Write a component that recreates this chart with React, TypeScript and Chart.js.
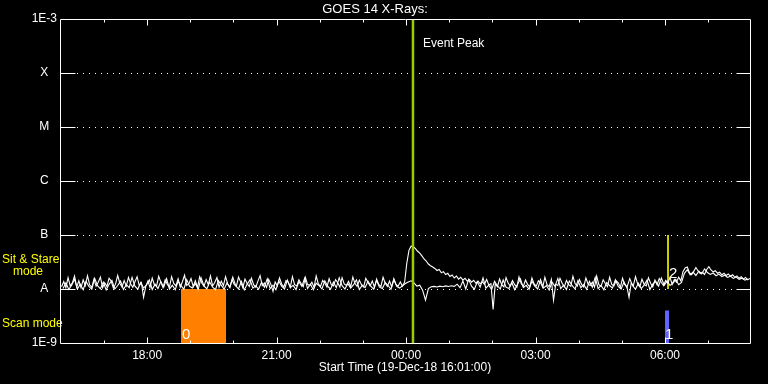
import React, { useEffect, useRef } from "react";
import { Chart, registerables } from "chart.js";

Chart.register(...registerables);

// ---------- text ----------
const TITLE = "GOES 14 X-Rays:";
const X_TITLE = "Start Time (19-Dec-18 16:01:00)";
const EVENT_LABEL = "Event Peak";
const MODE_LABEL_1 = "Sit & Stare";
const MODE_LABEL_2 = "mode";
const MODE_LABEL_3 = "Scan mode";

// ---------- axes (hours since 19-Dec-18 00:00) ----------
const X_MIN_H = 15.98;
const X_MAX_H = 31.97;
const HOUR_LABEL_TICKS = [18, 21, 24, 27, 30];
const Y_TICK_VALUES = [1e-9, 1e-8, 1e-7, 1e-6, 1e-5, 1e-4, 1e-3];
const Y_TICK_LABELS = ["1E-9", "A", "B", "C", "M", "X", "1E-3"];

// ---------- data (flux in units of 1e-9 W/m^2) ----------
const LONG_START_H = 16.0167;
const LONG_STEP_H = 0.05;
const LONG_FLUX_E9 = [
  11.0, 13.8, 10.6, 16.2, 11.4, 13.0, 17.4, 10.8, 14.2, 10.5,
  14.8, 11.6, 17.6, 12.0, 10.7, 15.2, 11.3, 13.4, 16.6, 10.6,
  13.1, 11.1, 15.8, 14.0, 10.4, 12.3, 17.8, 12.8, 10.9, 14.3,
  11.4, 16.4, 12.5, 10.8, 13.6, 16.9, 11.6, 13.1, 7.0, 11.1,
  14.0, 10.7, 15.9, 12.0, 11.2, 17.2, 13.4, 10.6, 14.8, 12.2,
  10.9, 17.0, 12.7, 11.4, 15.5, 10.8, 13.6, 18.0, 11.6, 12.5,
  15.6, 11.1, 14.2, 10.7, 16.8, 12.9, 11.2, 14.9, 12.0, 17.4,
  11.4, 13.2, 16.3, 10.8, 14.0, 11.6, 17.0, 12.4, 10.9, 14.8,
  12.2, 11.2, 16.6, 13.4, 10.6, 15.3, 12.6, 11.1, 15.9, 12.0,
  10.8, 14.0, 17.7, 11.6, 12.9, 10.7, 15.1, 12.2, 9.0, 13.5,
  11.4, 16.1, 12.4, 10.9, 14.3, 13.4, 10.8, 17.0, 12.0, 11.4,
  14.8, 12.6, 11.0, 16.4, 12.2, 11.6, 13.4, 10.7, 17.4, 12.4,
  11.2, 14.4, 12.8, 10.9, 15.5, 12.0, 11.4, 14.9, 13.1, 10.8,
  16.2, 12.4, 11.6, 13.9, 11.0, 16.7, 12.6, 11.2, 14.6, 12.0,
  10.9, 15.8, 13.2, 11.4, 14.1, 10.7, 15.3, 12.2, 11.1, 16.5,
  12.8, 11.2, 14.0, 10.9, 14.8, 12.0, 11.4, 13.5, 11.2, 13.5,
  30.0, 52.0, 62.0, 61.0, 56.0, 50.0, 46.0, 41.0, 36.0, 33.0,
  29.0, 27.0, 25.5, 24.0, 22.0, 23.0, 20.0, 21.0, 18.5, 19.5,
  17.0, 18.2, 16.0, 17.4, 15.2, 16.5, 14.6, 15.8, 14.0, 15.0,
  13.4, 14.5, 12.8, 14.0, 12.5, 13.6, 12.2, 15.0, 11.9, 12.6,
  4.2, 12.6, 11.0, 15.3, 12.0, 10.9, 16.3, 12.8, 11.3, 14.3,
  12.0, 10.8, 16.8, 12.6, 11.2, 14.7, 12.2, 11.0, 16.0, 12.4,
  11.3, 14.2, 13.0, 10.7, 16.5, 12.0, 11.0, 15.1, 6.2, 12.2,
  11.6, 15.8, 12.8, 10.9, 14.4, 12.0, 11.2, 17.2, 12.6, 11.3,
  15.0, 12.2, 10.9, 16.0, 12.4, 11.6, 13.4, 10.8, 17.4, 12.0,
  11.2, 14.8, 12.6, 11.0, 16.5, 12.2, 11.4, 14.2, 13.0, 10.8,
  15.8, 12.0, 11.2, 7.0, 12.8, 11.6, 17.0, 12.4, 11.0, 15.2,
  12.2, 11.4, 16.2, 12.8, 10.9, 14.6, 12.0, 15.6, 13.2, 11.6,
  14.4, 12.8, 16.4, 12.2, 15.0, 13.4, 16.6, 14.2, 21.0, 24.5,
  25.5, 20.0, 18.4, 21.2, 25.0, 21.6, 19.4, 20.4, 18.6, 23.0,
  26.0, 22.5, 20.8, 21.8, 19.6, 20.5, 18.2, 19.6, 17.8, 19.0,
  17.2, 18.3, 16.6, 17.5, 15.8, 16.9, 15.2, 16.4, 14.8, 15.6,
];

const SHORT_START_H = 16.05;
const SHORT_STEP_H = 1 / 15;
const SHORT_FLUX_E9 = [
  10.2, 13.0, 9.8, 11.8, 15.2, 10.0, 12.3, 9.7, 13.8, 11.2,
  9.9, 15.8, 11.5, 10.1, 13.4, 9.6, 12.2, 14.4, 10.0, 11.6,
  14.0, 9.8, 12.0, 10.6, 16.4, 11.3, 9.9, 13.2, 10.4, 11.9,
  14.7, 9.8, 12.3, 10.2, 13.7, 10.8, 15.6, 10.0, 11.7, 9.7,
  13.9, 11.5, 9.9, 14.9, 11.2, 10.4, 12.6, 9.8, 16.0, 11.4,
  10.1, 13.5, 10.8, 9.7, 14.3, 11.8, 9.9, 13.0, 10.6, 16.6,
  11.6, 10.0, 13.8, 9.6, 12.2, 14.8, 10.4, 11.5, 9.9, 13.4,
  10.8, 15.4, 10.2, 11.8, 9.7, 14.1, 11.3, 10.0, 14.6, 10.6,
  11.7, 9.8, 13.6, 11.2, 15.9, 10.2, 12.3, 9.7, 12.8, 11.6,
  10.0, 14.2, 11.3, 9.9, 13.4, 10.6, 16.2, 11.5, 10.0, 12.6,
  10.4, 12.0, 14.8, 9.8, 11.7, 10.6, 13.9, 11.3, 9.9, 14.4,
  10.8, 10.2, 13.2, 11.6, 9.9, 15.6, 11.2, 10.4, 11.5, 12.6,
  13.5, 14.2, 13.0, 11.3, 11.8, 9.5, 6.2, 10.2, 11.0, 11.2,
  10.9, 11.3, 11.0, 11.4, 11.1, 11.5, 11.2, 12.3, 10.6, 14.1,
  10.0, 15.1, 11.3, 9.9, 13.6, 10.8, 16.0, 10.4, 11.8, 9.8,
  13.9, 11.5, 10.0, 14.7, 10.8, 10.2, 13.2, 9.7, 12.3, 15.4,
  10.6, 11.7, 9.9, 14.0, 11.3, 10.0, 15.0, 10.4, 11.6, 9.6,
  13.4, 11.2, 15.7, 10.2, 11.8, 9.8, 14.1, 11.5, 10.0, 14.3,
  10.6, 12.2, 9.9, 13.8, 10.8, 16.5, 10.2, 11.7, 9.7, 13.2,
  11.6, 10.4, 14.8, 11.2, 10.0, 13.4, 10.6, 15.6, 11.5, 9.9,
  12.8, 10.2, 11.8, 14.6, 9.8, 12.3, 13.9, 11.3, 15.9, 11.8,
  14.0, 11.6, 12.8, 15.1, 12.0, 13.2, 19.5, 22.8, 18.2, 20.6,
  17.8, 21.4, 19.0, 23.5, 20.2, 18.6, 19.8, 17.6, 18.9, 17.0,
  18.0, 16.4, 17.3, 15.7, 16.6, 15.1, 15.9, 14.6, 15.3,
];

// ---------- events / modes ----------
const EVENT_PEAK_H = 24.16;
const SCAN0_RANGE_H = [18.784, 19.827];
const SCAN0_LEVEL = 1e-8;
const SCAN0_LABEL = "0";
const SCAN1_RANGE_H = [30.0, 30.094];
const SCAN1_LEVEL = 4e-9;
const SCAN1_LABEL = "1";
const MARK2_H = 30.07;
const MARK2_RANGE = [1e-8, 1e-7];
const MARK2_LABEL = "2";

const FONT = '"Liberation Sans", Arial, sans-serif';

function toPoints(start: number, step: number, vals: number[]) {
  return vals.map((v, i) => ({ x: start + i * step, y: v * 1e-9 }));
}

function hourLabel(h: number) {
  const hh = ((h % 24) + 24) % 24;
  return (hh < 10 ? "0" : "") + hh + ":00";
}

const decorPlugin = {
  id: "goesDecor",
  beforeDatasetsDraw(chart: any) {
    const { ctx, chartArea: a, scales } = chart;
    const y = scales.y;
    ctx.save();
    ctx.strokeStyle = "#ffffff";
    ctx.lineWidth = 1;
    ctx.setLineDash([1, 5]);
    for (const v of Y_TICK_VALUES.slice(1, -1)) {
      const py = Math.round(y.getPixelForValue(v)) + 0.5;
      ctx.beginPath();
      ctx.moveTo(Math.round(a.left) + 17, py);
      ctx.lineTo(Math.round(a.right) - 14, py);
      ctx.stroke();
    }
    ctx.restore();
  },
  afterDatasetsDraw(chart: any) {
    const { ctx, chartArea: a, scales } = chart;
    const x = scales.x;
    const y = scales.y;
    ctx.save();
    ctx.textBaseline = "alphabetic";
    ctx.fillStyle = "#ffffff";
    ctx.font = `12px ${FONT}`;
    ctx.textAlign = "left";
    ctx.fillText(EVENT_LABEL, x.getPixelForValue(EVENT_PEAK_H) + 10, a.top + 28);
    ctx.font = `15px ${FONT}`;
    ctx.textAlign = "left";
    ctx.fillText(SCAN0_LABEL, x.getPixelForValue(SCAN0_RANGE_H[0]) + 1, a.bottom - 4);
    ctx.fillText(SCAN1_LABEL, x.getPixelForValue(SCAN1_RANGE_H[1]) - 4, a.bottom - 4);
    ctx.fillText(MARK2_LABEL, x.getPixelForValue(MARK2_H) + 1, y.getPixelForValue(MARK2_RANGE[0]) - 11);
    const yA = y.getPixelForValue(1e-8);
    ctx.fillStyle = "#ffff00";
    ctx.font = `12px ${FONT}`;
    ctx.fillText(MODE_LABEL_1, 2, yA - 26);
    ctx.fillText(MODE_LABEL_2, 13, yA - 14);
    ctx.fillText(MODE_LABEL_3, 2, a.bottom - 16);
    ctx.restore();
  },
  afterDraw(chart: any) {
    const { ctx, chartArea: a, scales } = chart;
    const x = scales.x;
    const y = scales.y;
    const L = Math.round(a.left) + 0.5;
    const R = Math.round(a.right) + 0.5;
    const T = Math.round(a.top) + 0.5;
    const B = Math.round(a.bottom) + 0.5;
    ctx.save();
    ctx.strokeStyle = "#ffffff";
    ctx.lineWidth = 1;
    ctx.beginPath();
    ctx.rect(L, T, R - L, B - T);
    for (const v of Y_TICK_VALUES.slice(1, -1)) {
      const py = Math.round(y.getPixelForValue(v)) + 0.5;
      ctx.moveTo(L, py);
      ctx.lineTo(L + 15, py);
      ctx.moveTo(R - 14, py);
      ctx.lineTo(R, py);
    }
    for (let h = Math.ceil(X_MIN_H + 0.1); h <= Math.floor(X_MAX_H); h++) {
      const px = Math.round(x.getPixelForValue(h)) + 0.5;
      const len = h % 3 === 0 ? 6 : 3;
      ctx.moveTo(px, B);
      ctx.lineTo(px, B - len);
      ctx.moveTo(px, T);
      ctx.lineTo(px, T + len);
    }
    ctx.stroke();
    ctx.restore();
  },
};

export default function App() {
  const ref = useRef<HTMLCanvasElement>(null);
  useEffect(() => {
    Chart.defaults.font.family = FONT;
    Chart.defaults.color = "#ffffff";
    const lineBase = {
      pointRadius: 0,
      pointHoverRadius: 0,
      tension: 0,
      fill: false,
    };
    const chart = new Chart(ref.current as HTMLCanvasElement, {
      type: "line",
      data: {
        datasets: [
          {
            ...lineBase,
            label: "Event Peak",
            data: [
              { x: EVENT_PEAK_H, y: 1e-9 },
              { x: EVENT_PEAK_H, y: 1e-3 },
            ],
            borderColor: "#9acd00",
            borderWidth: 2.5,
          },
          {
            ...lineBase,
            label: "long",
            data: toPoints(LONG_START_H, LONG_STEP_H, LONG_FLUX_E9),
            borderColor: "#ffffff",
            borderWidth: 1.1,
          },
          {
            ...lineBase,
            label: "short",
            data: toPoints(SHORT_START_H, SHORT_STEP_H, SHORT_FLUX_E9),
            borderColor: "#ffffff",
            borderWidth: 1.1,
          },
          {
            ...lineBase,
            label: "mark2",
            data: [
              { x: MARK2_H, y: MARK2_RANGE[0] },
              { x: MARK2_H, y: MARK2_RANGE[1] },
            ],
            borderColor: "#ffff00",
            borderWidth: 1.6,
          },
          {
            ...lineBase,
            label: "scan0",
            data: [
              { x: SCAN0_RANGE_H[0], y: SCAN0_LEVEL },
              { x: SCAN0_RANGE_H[1], y: SCAN0_LEVEL },
            ],
            borderWidth: 0,
            borderColor: "rgba(0,0,0,0)",
            backgroundColor: "#ff8000",
            fill: "start",
          },
          {
            ...lineBase,
            label: "scan1",
            data: [
              { x: SCAN1_RANGE_H[0], y: SCAN1_LEVEL },
              { x: SCAN1_RANGE_H[1], y: SCAN1_LEVEL },
            ],
            borderWidth: 0,
            borderColor: "rgba(0,0,0,0)",
            backgroundColor: "#6262ff",
            fill: "start",
          },
        ],
      },
      options: {
        responsive: false,
        animation: false,
        devicePixelRatio: 1,
        events: [],
        layout: { padding: { left: 0, right: 18, top: 0, bottom: 0 } },
        plugins: {
          legend: { display: false },
          tooltip: { enabled: false },
          title: {
            display: true,
            text: TITLE,
            color: "#ffffff",
            font: { family: FONT, size: 13, weight: "normal", lineHeight: 1.2 },
            padding: { top: 2, bottom: 1.4 },
          },
        },
        scales: {
          x: {
            type: "linear",
            position: "bottom",
            min: X_MIN_H,
            max: X_MAX_H,
            grid: { display: false, drawTicks: false },
            border: { display: false },
            afterBuildTicks: (s: any) => {
              s.ticks = HOUR_LABEL_TICKS.map((v) => ({ value: v }));
            },
            afterFit: (s: any) => {
              s.height = 41;
            },
            ticks: {
              autoSkip: false,
              maxRotation: 0,
              color: "#ffffff",
              padding: 5,
              font: { family: FONT, size: 12 },
              callback: (v: any) => hourLabel(Number(v)),
            },
            title: {
              display: true,
              text: X_TITLE,
              color: "#ffffff",
              font: { family: FONT, size: 12 },
              padding: { top: 0, bottom: 9 },
            },
          },
          y: {
            type: "logarithmic",
            position: "left",
            min: 1e-9,
            max: 1e-3,
            grid: { display: false, drawTicks: false },
            border: { display: false },
            afterBuildTicks: (s: any) => {
              s.ticks = Y_TICK_VALUES.map((v) => ({ value: v }));
            },
            afterFit: (s: any) => {
              s.width = 60;
            },
            ticks: {
              autoSkip: false,
              color: "#ffffff",
              crossAlign: "center",
              padding: 3,
              font: { family: FONT, size: 12 },
              callback: (_v: any, i: number) => Y_TICK_LABELS[i],
            },
          },
        },
      },
      plugins: [decorPlugin],
    } as any);
    return () => chart.destroy();
  }, []);
  return (
    <div
      style={{
        position: "fixed",
        left: 0,
        top: 0,
        width: 768,
        height: 384,
        background: "#000000",
      }}
    >
      <canvas ref={ref} width={768} height={384} style={{ display: "block" }} />
    </div>
  );
}
